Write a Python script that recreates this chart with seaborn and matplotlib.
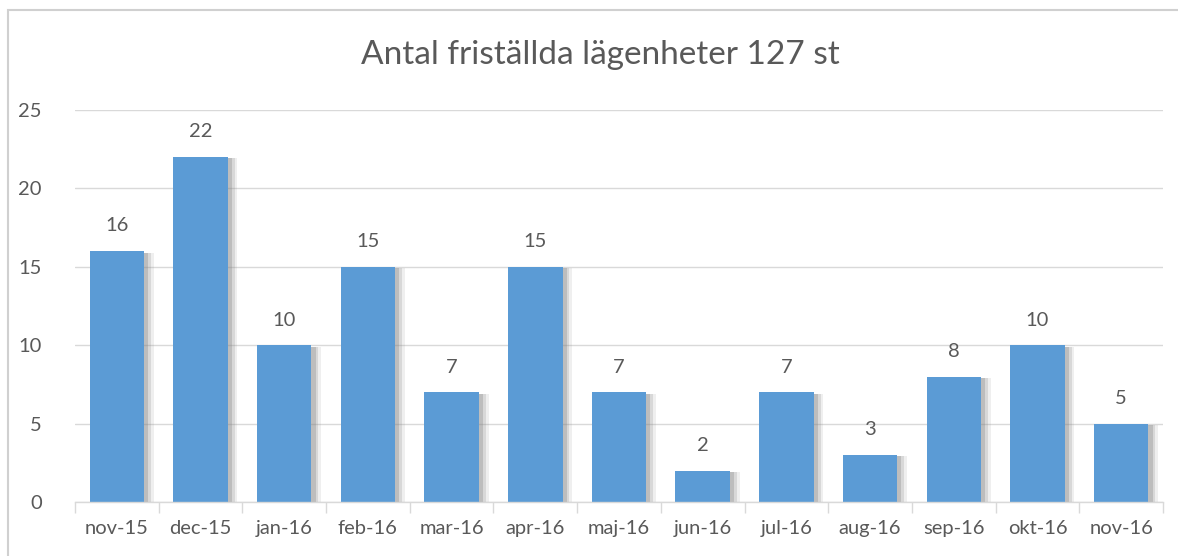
import matplotlib
matplotlib.use("Agg")
import matplotlib.pyplot as plt
import matplotlib.patheffects as pe
from matplotlib.patches import Rectangle
import seaborn as sns

# Data
MONTHS = ["nov-15", "dec-15", "jan-16", "feb-16", "mar-16", "apr-16", "maj-16",
          "jun-16", "jul-16", "aug-16", "sep-16", "okt-16", "nov-16"]
COUNTS = [16, 22, 10, 15, 7, 15, 7, 2, 7, 3, 8, 10, 5]
TITLE = "Antal friställda lägenheter 127 st"

BAR_COLOR = "#5B9BD5"
TEXT_COLOR = "#595959"
GRID_COLOR = "#D9D9D9"

sns.set_theme(style="white")
plt.rcParams['font.family'] = ['Lato', 'DejaVu Sans']

fig = plt.figure(figsize=(11.78, 5.56), dpi=100)
ax = fig.add_axes([75 / 1178, 1 - 502 / 556, (1163 - 75) / 1178, (502 - 110) / 556])

sns.barplot(x=MONTHS, y=COUNTS, color=BAR_COLOR, saturation=1, width=0.65, ax=ax)

# mjuk skugga bakom staplarna
shadow = [pe.SimplePatchShadow(offset=(d, -1), shadow_rgbFace="#808080", alpha=a)
          for d, a in [(7, 0.12), (5, 0.2), (3, 0.3)]]
for p in ax.patches:
    p.set_path_effects(shadow + [pe.Normal()])
    p.set_edgecolor("none")

ax.bar_label(ax.containers[0], labels=[str(v) for v in COUNTS], padding=12,
             fontsize=14.5, color=TEXT_COLOR)

ax.set_ylim(0, 25)
ax.set_xlim(-0.5, len(MONTHS) - 0.5)
ax.set_yticks(range(0, 26, 5))
ax.yaxis.grid(True, color=GRID_COLOR, linewidth=1)
ax.set_axisbelow(True)
for s in ["top", "right", "left"]:
    ax.spines[s].set_visible(False)
ax.spines["bottom"].set_color(GRID_COLOR)
ax.spines["bottom"].set_linewidth(1)

ax.tick_params(axis="y", length=0, pad=24, labelsize=14.5, labelcolor=TEXT_COLOR)
ax.tick_params(axis="x", which="major", length=0, pad=13, labelsize=14.5, labelcolor=TEXT_COLOR)
ax.set_xticks([i - 0.5 for i in range(len(MONTHS) + 1)], minor=True)
ax.tick_params(axis="x", which="minor", length=8, color=GRID_COLOR, width=1, bottom=True)
ax.set_xlabel("")
ax.set_ylabel("")
for lbl in ax.get_yticklabels():
    lbl.set_horizontalalignment("right")

fig.text(600 / 1178, 1 - 55 / 556, TITLE, ha="center", va="center",
         fontsize=24, color=TEXT_COLOR)

# ram runt diagrammet
fig.patches.append(Rectangle((8 / 1178, -0.01), 1.02, 1 - 10 / 556 + 0.01,
                             transform=fig.transFigure, fill=False,
                             edgecolor="#D0D0D0", linewidth=1.5))

fig.savefig("out.png", dpi=100)
